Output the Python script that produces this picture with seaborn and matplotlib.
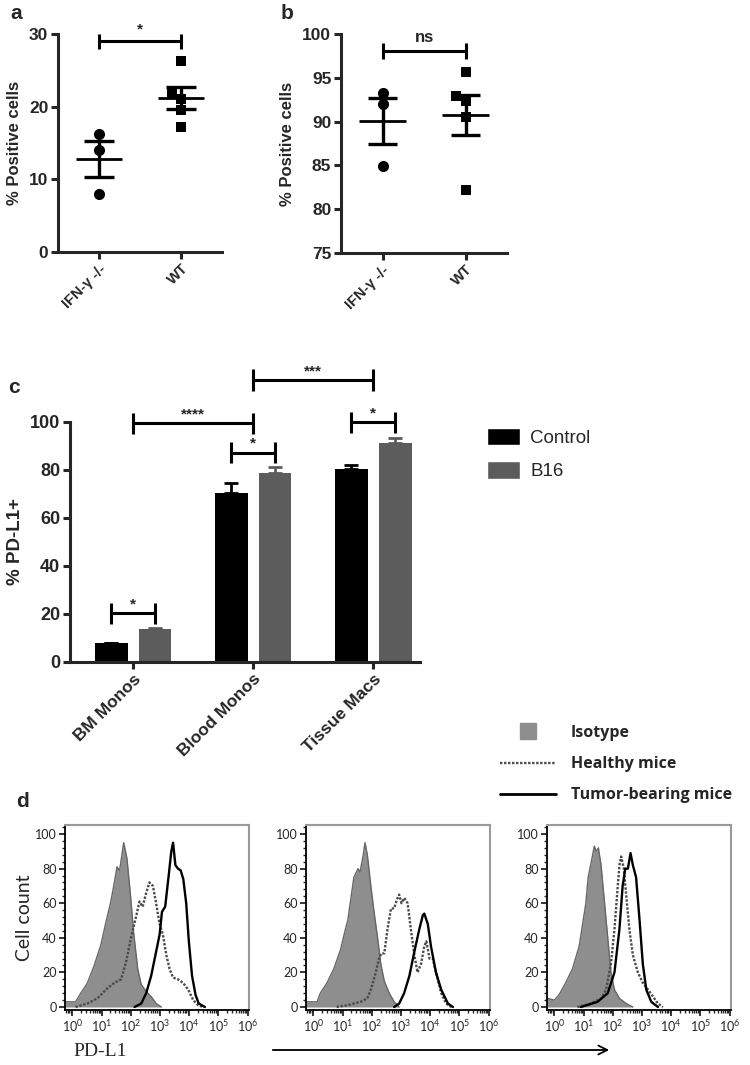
import numpy as np
import pandas as pd
import seaborn as sns
import matplotlib.pyplot as plt
from matplotlib.patches import Patch, FancyArrowPatch
from matplotlib.lines import Line2D
from matplotlib.ticker import MultipleLocator, LogLocator, NullFormatter

sns.set_style('ticks')
plt.rcParams['font.family'] = ['Liberation Sans', 'DejaVu Sans']
plt.rcParams['mathtext.default'] = 'regular'

# --- panel a / b: individual mice ---
groups = ['IFN-γ -/-', 'WT']
a_ifn = [16.3, 14.1, 8.0]
a_wt = [26.3, 21.8, 21.1, 19.5, 17.2]
b_ifn = [93.3, 92.0, 84.9]
b_wt = [95.7, 92.9, 92.4, 90.5, 82.2]

# --- panel c: % PD-L1+ (mean, sem) ---
cells = ['BM Monos', 'Blood Monos', 'Tissue Macs']
treat = ['Control', 'B16']
c_control = [7.6, 70.4, 80.3]
c_b16 = [13.7, 78.5, 91.2]
c_control_sem = [0.3, 3.9, 1.5]
c_b16_sem = [0.4, 2.8, 2.0]

# --- panel d: histograms (log10 PD-L1, cell count) ---
d1_iso_lx = [-0.25, 0.11, 0.29, 0.52, 0.75, 0.98, 1.15, 1.32, 1.44, 1.53, 1.62, 1.76, 1.87, 1.99, 2.1, 2.24, 2.36, 2.53, 2.7, 2.87, 3.05]
d1_iso_y = [3, 3, 8, 14, 24, 36, 49, 61, 72, 81, 79, 95, 86, 65, 43, 22, 13, 9, 6, 2, 0]
d1_hea_lx = [0.11, 0.52, 0.86, 1.21, 1.44, 1.67, 1.84, 2.01, 2.18, 2.3, 2.41, 2.53, 2.64, 2.76, 2.87, 2.99, 3.1, 3.22, 3.33, 3.45, 3.62, 3.79, 3.97, 4.14, 4.31, 4.48]
d1_hea_y = [0, 2, 5, 11, 14, 16, 26, 40, 52, 61, 58, 66, 72, 70, 60, 48, 42, 30, 22, 17, 16, 14, 10, 4, 1, 0]
d1_tum_lx = [2.13, 2.36, 2.53, 2.7, 2.87, 2.99, 3.07, 3.18, 3.3, 3.39, 3.45, 3.53, 3.62, 3.71, 3.8, 3.9, 3.99, 4.1, 4.22, 4.33, 4.54]
d1_tum_y = [0, 2, 8, 18, 32, 42, 55, 58, 76, 90, 95, 82, 80, 79, 74, 60, 38, 18, 7, 2, 0]

d2_iso_lx = [-0.25, 0.13, 0.24, 0.47, 0.7, 0.93, 1.1, 1.18, 1.28, 1.39, 1.53, 1.6, 1.71, 1.77, 1.85, 1.97, 2.08, 2.2, 2.31, 2.43, 2.6, 2.77, 2.94]
d2_iso_y = [3, 3, 8, 14, 22, 33, 45, 50, 62, 75, 80, 78, 88, 95, 88, 70, 55, 40, 25, 15, 8, 3, 0]
d2_hea_lx = [0.8, 1.16, 1.62, 1.85, 1.97, 2.14, 2.25, 2.33, 2.43, 2.54, 2.66, 2.77, 2.86, 2.94, 3.02, 3.11, 3.23, 3.34, 3.46, 3.57, 3.69, 3.8, 3.87, 3.98, 4.09, 4.2, 4.38, 4.55, 4.72]
d2_hea_y = [0, 1, 3, 5, 10, 20, 28, 31, 31, 45, 57, 57, 62, 65, 60, 63, 60, 45, 30, 20, 25, 35, 38, 28, 28, 20, 8, 2, 0]
d2_tum_lx = [2.77, 2.94, 3.11, 3.29, 3.46, 3.63, 3.75, 3.8, 3.92, 4.03, 4.2, 4.38, 4.61, 4.78]
d2_tum_y = [0, 2, 8, 18, 32, 45, 53, 54, 48, 35, 20, 10, 2, 0]

d3_iso_lx = [-0.25, 0.0, 0.16, 0.39, 0.62, 0.85, 0.97, 1.08, 1.16, 1.28, 1.37, 1.43, 1.51, 1.6, 1.71, 1.83, 1.94, 2.06, 2.23, 2.46, 2.69]
d3_iso_y = [5, 4, 7, 14, 22, 35, 48, 60, 75, 85, 93, 90, 92, 82, 62, 40, 20, 10, 5, 2, 0]
d3_hea_lx = [0.79, 1.25, 1.6, 1.77, 1.94, 2.06, 2.15, 2.23, 2.29, 2.38, 2.46, 2.57, 2.69, 2.86, 3.03, 3.21, 3.38, 3.55, 3.72]
d3_hea_y = [0, 2, 5, 10, 25, 45, 65, 82, 87, 80, 65, 45, 30, 20, 14, 10, 6, 2, 0]
d3_tum_lx = [0.91, 1.48, 1.83, 2.06, 2.23, 2.34, 2.43, 2.52, 2.61, 2.69, 2.8, 2.92, 3.03, 3.15, 3.32, 3.55]
d3_tum_y = [0, 3, 8, 20, 45, 70, 80, 80, 89, 82, 75, 50, 25, 10, 3, 0]

W, H = 750, 1065
fig = plt.figure(figsize=(W / 100, H / 100), dpi=100)


def px_axes(left, top, right, bottom):
    return fig.add_axes([left / W, 1 - bottom / H, (right - left) / W, (bottom - top) / H])


def style_prism(ax, fs):
    sns.despine(ax=ax)
    for s in ['left', 'bottom']:
        ax.spines[s].set_linewidth(2.2)
    ax.tick_params(width=2.2, length=5, labelsize=fs, pad=2)
    for t in ax.get_yticklabels() + ax.get_xticklabels():
        t.set_fontweight('bold')


def bracket(ax, x0, x1, y, h, txt, fs, dy):
    ax.plot([x0, x1], [y, y], color='black', lw=2.2, clip_on=False)
    ax.vlines([x0, x1], y - h, y + h, color='black', lw=2.2, clip_on=False)
    ax.text((x0 + x1) / 2, y + dy, txt, ha='center', va='bottom', fontsize=fs,
            fontweight='bold', clip_on=False)


def scatter_panel(ax, ifn, wt):
    df = pd.DataFrame({'group': [groups[0]] * len(ifn) + [groups[1]] * len(wt),
                       'val': ifn + wt})
    sns.swarmplot(data=df[df.group == groups[0]], x='group', y='val', order=groups,
                  marker='o', color='black', size=8, ax=ax)
    sns.swarmplot(data=df[df.group == groups[1]], x='group', y='val', order=groups,
                  marker='s', color='black', size=7, ax=ax)
    stats = df.groupby('group', sort=False)['val'].agg(['mean', 'sem'])
    for i, g in enumerate(groups):
        m, s = stats.loc[g, 'mean'], stats.loc[g, 'sem']
        ax.hlines(m, i - 0.28, i + 0.28, color='black', lw=2)
        ax.hlines([m - s, m + s], i - 0.18, i + 0.18, color='black', lw=2.4)
        ax.vlines(i, m - s, m + s, color='black', lw=2.4)
    ax.set_xlim(-0.5, 1.5)
    ax.set_xlabel('')
    ax.set_ylabel('% Positive cells', fontsize=12, fontweight='bold', va='center')


# ---------------- panel a ----------------
ax_a = px_axes(58, 34, 222, 252)
scatter_panel(ax_a, a_ifn, a_wt)
ax_a.set_ylim(0, 30)
ax_a.set_yticks([0, 10, 20, 30])
style_prism(ax_a, 12.5)
ax_a.set_xticks([0, 1])
ax_a.set_xticklabels(groups, rotation=45, ha='right', rotation_mode='anchor',
                     fontsize=10.5, fontweight='bold')
ax_a.yaxis.set_label_coords(-0.265, 0.5)
bracket(ax_a, 0, 1, 29.0, 1.0, '*', 11, 0.6)

# ---------------- panel b ----------------
ax_b = px_axes(341, 34, 507, 253)
scatter_panel(ax_b, b_ifn, b_wt)
ax_b.set_ylim(75, 100)
ax_b.set_yticks([75, 80, 85, 90, 95, 100])
style_prism(ax_b, 12.5)
ax_b.set_xticks([0, 1])
ax_b.set_xticklabels(groups, rotation=45, ha='right', rotation_mode='anchor',
                     fontsize=10.5, fontweight='bold')
ax_b.yaxis.set_label_coords(-0.32, 0.5)
bracket(ax_b, 0, 1, 98.1, 0.9, 'ns', 12, 0.7)

# ---------------- panel c ----------------
ax_c = px_axes(70, 421.7, 420, 661.7)
dfc = pd.DataFrame({'cell': cells * 2,
                    'group': [treat[0]] * 3 + [treat[1]] * 3,
                    'pct': c_control + c_b16,
                    'sem': c_control_sem + c_b16_sem})
colors_c = ['black', '#5c5c5c']
sns.barplot(data=dfc, x='cell', y='pct', hue='group', hue_order=treat, order=cells,
            palette=colors_c, width=0.73, gap=0.25, errorbar=None, linewidth=0,
            legend=False, ax=ax_c)
centers = {}
for cont, g, col in zip(ax_c.containers, treat, colors_c):
    sub = dfc[dfc.group == g]
    xs = [p.get_x() + p.get_width() / 2 for p in cont]
    centers[g] = xs
    ax_c.errorbar(xs, sub['pct'], yerr=[np.zeros(len(sub)), sub['sem']], fmt='none',
                  ecolor=col, elinewidth=2, capsize=5, capthick=2)
ax_c.set_ylim(0, 100)
ax_c.set_xlim(-0.525, 2.39)
ax_c.set_yticks([0, 20, 40, 60, 80, 100])
style_prism(ax_c, 13)
ax_c.set_xticks([0, 1, 2])
ax_c.set_xticklabels(cells, rotation=45, ha='right', rotation_mode='anchor',
                     fontsize=12.5, fontweight='bold')
ax_c.set_xlabel('')
ax_c.set_ylabel('% PD-L1+', fontsize=13.5, fontweight='bold', va='center')
ax_c.yaxis.set_label_coords(-0.157, 0.5)
for i, y in zip(range(3), [20.1, 87.1, 99.7]):
    bracket(ax_c, centers['Control'][i], centers['B16'][i], y, 4.3, '*', 11, 0.8)
bracket(ax_c, 0, 1, 99.3, 4.5, '****', 11, 0.8)
bracket(ax_c, 1, 2, 117.4, 4.5, '***', 11, 0.8)

fig.legend([Patch(facecolor=c) for c in colors_c], treat, loc='upper left',
           bbox_to_anchor=(487 / W, 1 - 428 / H), frameon=False, fontsize=13.5,
           handlelength=1.75, handleheight=1.05, handletextpad=0.55, labelspacing=0.75,
           borderpad=0, borderaxespad=0)

# ---------------- panel d ----------------
hist_sets = [
    (d1_iso_lx, d1_iso_y, d1_hea_lx, d1_hea_y, d1_tum_lx, d1_tum_y, 65),
    (d2_iso_lx, d2_iso_y, d2_hea_lx, d2_hea_y, d2_tum_lx, d2_tum_y, 306),
    (d3_iso_lx, d3_iso_y, d3_hea_lx, d3_hea_y, d3_tum_lx, d3_tum_y, 547),
]
for iso_lx, iso_y, hea_lx, hea_y, tum_lx, tum_y, left in hist_sets:
    ax = px_axes(left, 825.4, left + 184, 1009.6)
    ix = 10 ** np.array(iso_lx)
    ax.fill_between(ix, iso_y, color='#8e8e8e', lw=0)
    ax.plot(ix, iso_y, color='#666666', lw=1)
    sns.lineplot(x=10 ** np.array(hea_lx), y=hea_y, color='#4a4a4a', lw=1.7,
                 linestyle=(0, (1, 0.7)), ax=ax)
    sns.lineplot(x=10 ** np.array(tum_lx), y=tum_y, color='black', lw=1.7, ax=ax)
    ax.set_xscale('log')
    ax.set_xlim(10 ** -0.25, 10 ** 6.05)
    ax.set_ylim(-1.5, 105)
    ax.set_yticks([0, 20, 40, 60, 80, 100])
    ax.yaxis.set_minor_locator(MultipleLocator(4))
    ax.set_xticks([10 ** k for k in range(7)])
    ax.xaxis.set_minor_locator(LogLocator(base=10, subs=np.arange(2, 10), numticks=20))
    ax.xaxis.set_minor_formatter(NullFormatter())
    for s in ['top', 'right']:
        ax.spines[s].set_color('#9a9a9a')
        ax.spines[s].set_linewidth(1.5)
    for s in ['left', 'bottom']:
        ax.spines[s].set_color('black')
        ax.spines[s].set_linewidth(1.3)
    ax.tick_params(which='major', length=4, width=1.3, labelsize=9, pad=2)
    ax.tick_params(which='minor', length=2.5, width=1)
    for t in ax.get_xticklabels() + ax.get_yticklabels():
        t.set_family(['Lato', 'DejaVu Sans'])
    ax.set_xlabel('')
    ax.set_ylabel('')

leg_handles = [Line2D([], [], marker='s', markersize=11, color='#8e8e8e', ls='none'),
               Line2D([], [], color='#4a4a4a', lw=1.7, ls=(0, (1, 0.7))),
               Line2D([], [], color='black', lw=2)]
fig.legend(leg_handles, ['Isotype', 'Healthy mice', 'Tumor-bearing mice'],
           loc='upper left', bbox_to_anchor=(500 / W, 1 - 725 / H), frameon=False,
           prop={'family': ['Open Sans', 'DejaVu Sans'], 'weight': 'bold', 'size': 11.5},
           handlelength=3.5, handletextpad=0.95, labelspacing=0.95,
           borderpad=0, borderaxespad=0)

fig.text(25 / W, 1 - 918 / H, 'Cell count', rotation=90, ha='center', va='center',
         fontsize=14, family=['Lato', 'DejaVu Sans'])
fig.text(100 / W, 1 - 1051 / H, 'PD-L1', ha='center', va='center', fontsize=14,
         family=['Liberation Serif', 'DejaVu Serif'])
fig.add_artist(FancyArrowPatch((270 / W, 1 - 1050 / H), (612 / W, 1 - 1050 / H),
                               transform=fig.transFigure, arrowstyle='->', lw=1.3,
                               mutation_scale=16, color='black'))

# panel letters
for txt, x, y in [('a', 10, 4), ('b', 281, 4), ('c', 8, 378), ('d', 16, 792)]:
    fig.text(x / W, 1 - y / H, txt, fontsize=15, fontweight='bold', va='top', ha='left')

fig.savefig('out.png', dpi=100)
